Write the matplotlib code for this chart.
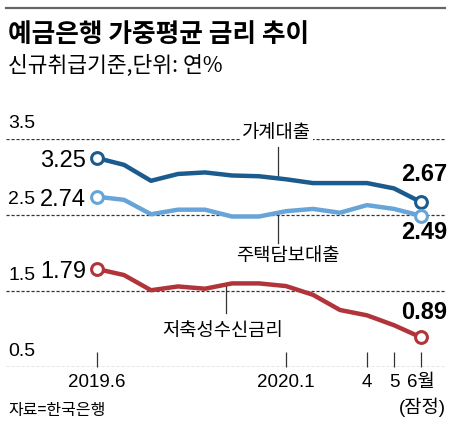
import numpy as np
import matplotlib
matplotlib.use('Agg')
import matplotlib.pyplot as plt
from matplotlib.lines import Line2D

# monthly index 2019.6 .. 2020.6
months = np.arange(13)
household = [3.25, 3.16, 2.95, 3.04, 3.06, 3.02, 3.01, 2.97, 2.92, 2.92, 2.92, 2.85, 2.67]
mortgage = [2.74, 2.70, 2.51, 2.57, 2.57, 2.48, 2.48, 2.55, 2.58, 2.53, 2.63, 2.58, 2.49]
deposit = [1.79, 1.71, 1.51, 1.56, 1.53, 1.60, 1.60, 1.565, 1.45, 1.25, 1.18, 1.05, 0.89]

tick_pos = [0, 7, 10, 11, 12]
tick_labels = ['2019.6', '2020.1', '4', '5', '6월']
grid_vals = [0.5, 1.5, 2.5, 3.5]

c_dark = '#1b5b8e'
c_light = '#67a5d8'
c_red = '#b0343a'

KR = 'Noto Sans CJK KR'
NUM = ['Liberation Sans Narrow', 'Liberation Sans', KR]
plt.rcParams['font.family'] = [KR, 'DejaVu Sans']

fig = plt.figure(figsize=(4.5, 4.24), dpi=100)
W, H = 450, 424
ax = fig.add_axes([6 / W, 1 - 367 / H, 439 / W, 228 / H])
ax.set_xlim(-3.37, 12.89)
ax.set_ylim(0.5, 3.5)
for s in ax.spines.values():
    s.set_visible(False)
ax.set_yticks([])

for g in grid_vals:
    ax.axhline(g, color='#333333', lw=0.9, ls=(0, (2.5, 1.5)), zorder=1)

ax.set_xticks(tick_pos)
ax.set_xticklabels(tick_labels, fontfamily=NUM, fontsize=13.5)
ax.tick_params(axis='x', direction='in', length=11, width=0.9, color='#333333', pad=5)
# provisional mark under the last month
ax.annotate('(잠정)', (tick_pos[-1], 0.5), xytext=(1, -29), textcoords='offset points',
            ha='center', va='center', fontfamily=NUM, fontsize=13.5)

for ys, col in [(household, c_dark), (mortgage, c_light), (deposit, c_red)]:
    ax.plot(months, ys, color=col, lw=3.2, solid_joinstyle='round', solid_capstyle='round', zorder=3)
    ax.plot([months[0], months[-1]], [ys[0], ys[-1]], ls='none', marker='o', ms=8.5,
            mfc='white', mec=col, mew=2.2, zorder=4, clip_on=False)

# y value labels (left side)
ytr = ax.get_yaxis_transform()
for g in [3.5, 2.5, 1.5, 0.5]:
    ax.text(0.005, g + 0.2, f'{g}', transform=ytr, fontfamily=NUM, fontsize=14,
            ha='left', va='center')

# start / end values
for ys in [household, mortgage, deposit]:
    ax.annotate(f'{ys[0]:.2f}', (months[0], ys[0]), xytext=(-8, -2), textcoords='offset points',
                ha='right', va='center', fontfamily=NUM, fontsize=17)
ax.annotate(f'{household[-1]:.2f}', (months[-1], household[-1]), xytext=(2, 20), textcoords='offset points',
            ha='center', va='center', fontfamily=NUM, fontsize=17, fontweight='bold')
ax.annotate(f'{mortgage[-1]:.2f}', (months[-1], mortgage[-1]), xytext=(2, -12), textcoords='offset points',
            ha='center', va='center', fontfamily=NUM, fontsize=17, fontweight='bold')
ax.annotate(f'{deposit[-1]:.2f}', (months[-1], deposit[-1]), xytext=(2, 18), textcoords='offset points',
            ha='center', va='center', fontfamily=NUM, fontsize=17, fontweight='bold')

# series names with leader lines
lx = 6.7
ax.plot([lx, lx], [3.39, np.interp(lx, months, household)], color='#333333', lw=0.9, zorder=2)
ax.text(6.64, 3.58, '가계대출', fontsize=13.5, ha='center', va='center', zorder=5,
        bbox=dict(facecolor='white', edgecolor='none', pad=1.5))
ax.plot([lx, lx], [np.interp(lx, months, mortgage), 2.13], color='#333333', lw=0.9, zorder=2)
ax.text(7.05, 1.97, '주택담보대출', fontsize=13.5, ha='center', va='center', zorder=5)
dx = 4.79
ax.plot([dx, dx], [np.interp(dx, months, deposit), 1.21], color='#333333', lw=0.9, zorder=2)
ax.text(4.64, 0.985, '저축성수신금리', fontsize=13.5, ha='center', va='center', zorder=5)

# header
fig.add_artist(Line2D([6 / W, 445 / W], [1 - 8 / H, 1 - 8 / H], color='#666666', lw=1.6))
fig.text(8 / W, 1 - 35 / H, '예금은행 가중평균 금리 추이', fontsize=18.5, fontweight='bold',
         ha='left', va='center')
fig.text(8 / W, 1 - 66 / H, '신규취급기준,단위: 연%', fontsize=15.5, ha='left', va='center')
fig.text(8 / W, 1 - 410 / H, '자료=한국은행', fontsize=11.5, ha='left', va='center')

fig.savefig('out.png', dpi=100)
